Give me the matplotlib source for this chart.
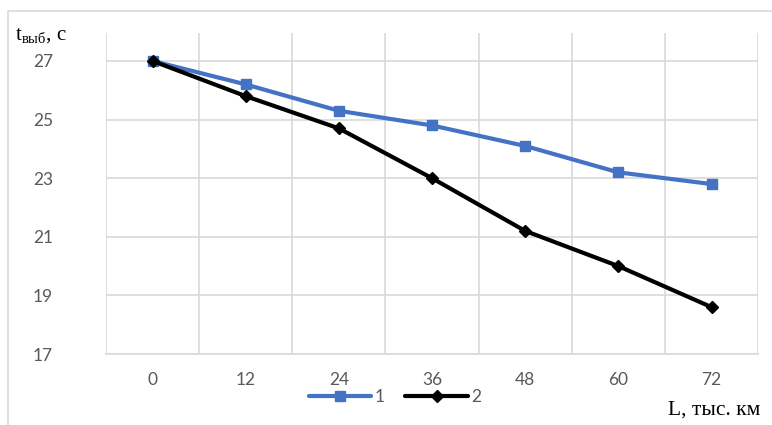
import matplotlib.pyplot as plt
from matplotlib.patches import Rectangle

distance = [0, 12, 24, 36, 48, 60, 72]
time_1 = [27.0, 26.2, 25.3, 24.8, 24.1, 23.2, 22.8]
time_2 = [27.0, 25.8, 24.7, 23.0, 21.2, 20.0, 18.6]
y_ticks = [17, 19, 21, 23, 25, 27]

fig = plt.figure(figsize=(7.72, 4.25), dpi=100)
ax = fig.add_axes([0.1373, 0.167, 0.8447, 0.755])

# рамка области диаграммы
fig.patches.append(Rectangle((8 / 772, -0.1), 1.2, (425 - 11) / 425 + 0.1,
                             transform=fig.transFigure, fill=False,
                             edgecolor='#d9d9d9', linewidth=1.2))

pos = list(range(len(distance)))
ax.plot(pos, time_1, color='#4472c4', linewidth=3.0, marker='s',
        markersize=7, label='1', solid_capstyle='round')
ax.plot(pos, time_2, color='black', linewidth=3.0, marker='D',
        markersize=6, label='2', solid_capstyle='round')

ax.set_xlim(-0.5, len(distance) - 0.5)
ax.set_ylim(17, 27.95)
ax.set_xticks(pos)
ax.set_xticklabels([str(d) for d in distance])
ax.set_xticks([p - 0.5 for p in range(len(distance) + 1)], minor=True)
ax.set_yticks(y_ticks)

ax.grid(axis='x', which='minor', color='#d9d9d9', linewidth=1.2)
ax.grid(axis='y', which='major', color='#d9d9d9', linewidth=1.2)
ax.set_axisbelow(True)
for s in ax.spines.values():
    s.set_visible(False)
ax.spines['bottom'].set_visible(True)
ax.spines['bottom'].set_color('#d9d9d9')
ax.spines['bottom'].set_linewidth(1.2)

ax.tick_params(which='both', length=0)
ax.tick_params(axis='y', pad=38)
ax.tick_params(axis='x', pad=13)
for lab in ax.get_xticklabels() + ax.get_yticklabels():
    lab.set_fontfamily('Lato')
    lab.set_fontsize(12.5)
    lab.set_color('#595959')

fig.text(15 / 772, 1 - 36 / 425, 't$_{\\mathregular{выб}}$, с', family='Liberation Serif',
         fontsize=15, va='center', ha='left')
fig.text(668 / 772, 1 - 410 / 425, 'L, тыс. км', family='Liberation Serif',
         fontsize=15.5, va='center', ha='left')

leg = fig.legend(loc='center', bbox_to_anchor=(395 / 772, 1 - 397 / 425), ncol=2,
                 frameon=False, handlelength=3.6, handletextpad=0.2,
                 columnspacing=1.2, prop={'family': 'Lato', 'size': 12.5})
for t in leg.get_texts():
    t.set_color('#595959')

fig.savefig('out.png', dpi=100)
